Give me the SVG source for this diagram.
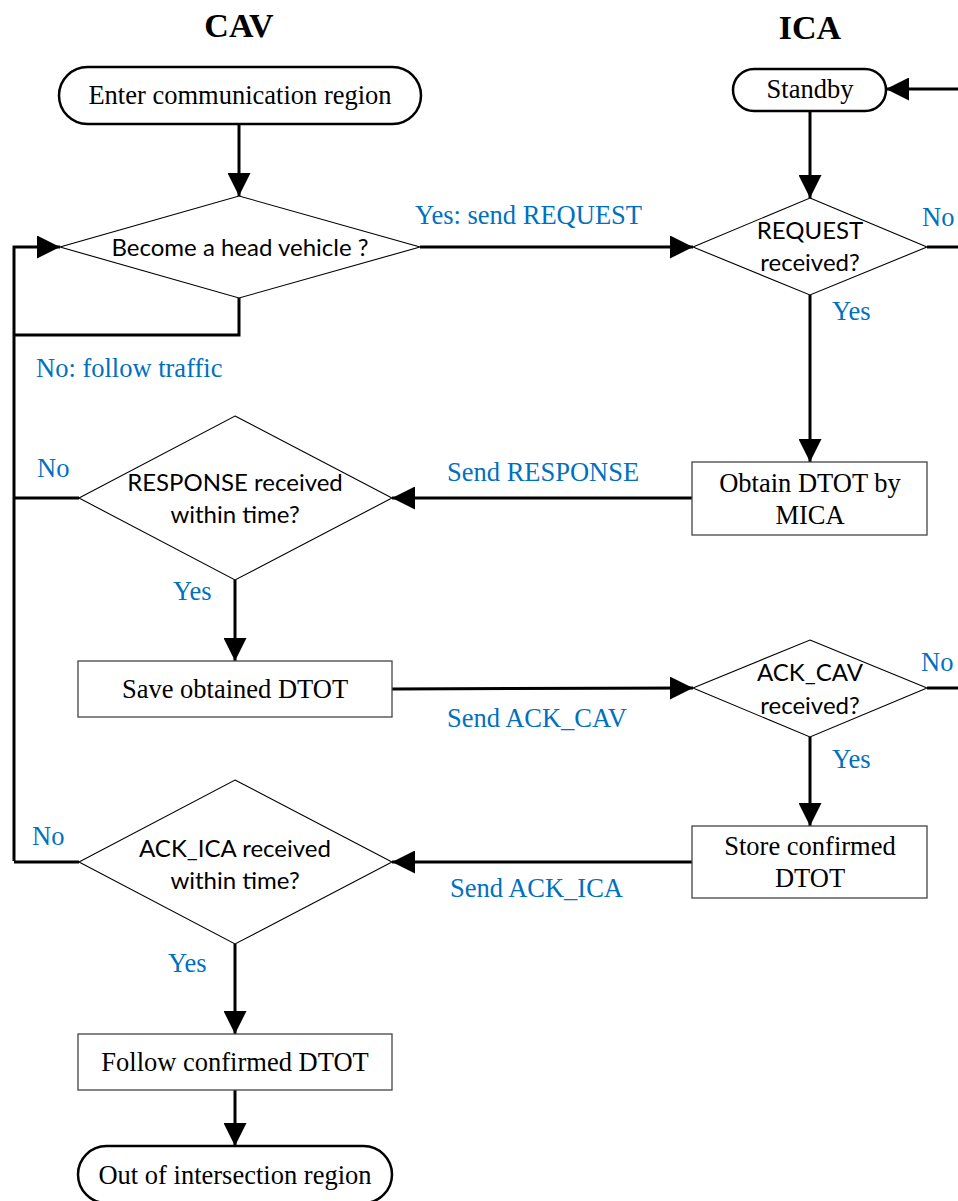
<svg xmlns="http://www.w3.org/2000/svg" width="958" height="1201" viewBox="0 0 958 1201">
  <style>
    .title { font-family: "Liberation Serif", "Times New Roman", serif; font-weight: bold; font-size: 34px; fill: #000; text-anchor: middle; }
    .serif { font-family: "Liberation Serif", "Times New Roman", serif; font-size: 26.5px; fill: #000; text-anchor: middle; }
    .sans { font-family: Lato, "Liberation Sans", sans-serif; font-size: 24px; fill: #000; text-anchor: middle; }
    .lbl { font-family: "Liberation Serif", "Times New Roman", serif; font-size: 26.5px; fill: #0070C0; }
    .term { fill: #fff; stroke: #000; stroke-width: 2.5; }
    .box { fill: #fff; stroke: #444; stroke-width: 1.3; }
    .dec { fill: #fff; stroke: #000; stroke-width: 1.1; }
    .link { fill: none; stroke: #000; stroke-width: 3; }
    .arrow { marker-end: url(#head); }
  </style>
  <defs>
    <marker id="head" viewBox="0 0 23 23" refX="23" refY="11.5" markerWidth="23" markerHeight="23" markerUnits="userSpaceOnUse" orient="auto">
      <path d="M0,0 L23,11.5 L0,23 Z" fill="#000"/>
    </marker>
  </defs>

  <!-- lane titles -->
  <text class="title" x="239" y="37">CAV</text>
  <text class="title" x="810" y="39">ICA</text>

  <!-- connectors -->
  <g id="connectors">
    <line class="link arrow" x1="239" y1="124" x2="239" y2="196"/>
    <polyline class="link" points="239,298 239,335 14,335"/>
    <polyline class="link arrow" points="14,861 14,247 60,247"/>
    <line class="link arrow" x1="420" y1="247" x2="693" y2="247"/>
    <line class="link arrow" x1="958" y1="89" x2="886" y2="89"/>
    <line class="link arrow" x1="810" y1="111" x2="810" y2="198"/>
    <line class="link" x1="927" y1="247" x2="958" y2="247"/>
    <line class="link arrow" x1="810" y1="295" x2="810" y2="462"/>
    <line class="link arrow" x1="692" y1="498" x2="392" y2="498"/>
    <line class="link" x1="79" y1="498" x2="14" y2="498"/>
    <line class="link arrow" x1="235" y1="580" x2="235" y2="661"/>
    <line class="link arrow" x1="392" y1="689" x2="693" y2="688"/>
    <line class="link" x1="927" y1="688" x2="958" y2="688"/>
    <line class="link arrow" x1="810" y1="737" x2="810" y2="826"/>
    <line class="link arrow" x1="692" y1="862" x2="392" y2="862"/>
    <line class="link" x1="79" y1="862" x2="14" y2="862"/>
    <line class="link arrow" x1="235" y1="944" x2="235" y2="1034"/>
    <line class="link arrow" x1="235" y1="1090" x2="235" y2="1146"/>

    <!-- connector labels -->
    <text class="lbl" x="415" y="224">Yes: send REQUEST</text>
    <text class="lbl" x="36" y="377">No: follow traffic</text>
    <text class="lbl" x="922" y="226">No</text>
    <text class="lbl" x="832" y="320">Yes</text>
    <text class="lbl" x="447" y="481">Send RESPONSE</text>
    <text class="lbl" x="37" y="477">No</text>
    <text class="lbl" x="173" y="600">Yes</text>
    <text class="lbl" x="447" y="727">Send ACK_CAV</text>
    <text class="lbl" x="921" y="671">No</text>
    <text class="lbl" x="832" y="768">Yes</text>
    <text class="lbl" x="450" y="897">Send ACK_ICA</text>
    <text class="lbl" x="32" y="845">No</text>
    <text class="lbl" x="168" y="972">Yes</text>
  </g>

  <!-- CAV side -->
  <g id="enter">
    <rect class="term" x="59" y="67" width="362" height="57" rx="28.5"/>
    <text class="serif" x="240" y="104">Enter communication region</text>
  </g>
  <g id="head-vehicle">
    <polygon class="dec" points="239,196 420,247 239,298 60,247"/>
    <text class="sans" x="240" y="256">Become a head vehicle ?</text>
  </g>
  <g id="response-check">
    <polygon class="dec" points="235,416 392,498 235,580 79,498"/>
    <text class="sans" x="235" y="491">RESPONSE received</text>
    <text class="sans" x="235" y="523">within time?</text>
  </g>
  <g id="save-dtot">
    <rect class="box" x="78" y="661" width="314" height="56"/>
    <text class="serif" x="235" y="698">Save obtained DTOT</text>
  </g>
  <g id="ack-ica-check">
    <polygon class="dec" points="235,780 392,862 235,944 79,862"/>
    <text class="sans" x="235" y="857">ACK_ICA received</text>
    <text class="sans" x="235" y="889">within time?</text>
  </g>
  <g id="follow-dtot">
    <rect class="box" x="78" y="1034" width="314" height="56"/>
    <text class="serif" x="235" y="1071">Follow confirmed DTOT</text>
  </g>
  <g id="out-region">
    <rect class="term" x="78" y="1146" width="314" height="57" rx="28.5"/>
    <text class="serif" x="235" y="1184">Out of intersection region</text>
  </g>

  <!-- ICA side -->
  <g id="standby">
    <rect class="term" x="733" y="69" width="153" height="42" rx="21"/>
    <text class="serif" x="810" y="98">Standby</text>
  </g>
  <g id="request-check">
    <polygon class="dec" points="810,198 927,247 810,295 693,247"/>
    <text class="sans" x="810" y="239">REQUEST</text>
    <text class="sans" x="810" y="271">received?</text>
  </g>
  <g id="obtain-dtot">
    <rect class="box" x="692" y="462" width="235" height="73"/>
    <text class="serif" x="810" y="492">Obtain DTOT by</text>
    <text class="serif" x="810" y="524">MICA</text>
  </g>
  <g id="ack-cav-check">
    <polygon class="dec" points="810,640 927,688 810,737 693,688"/>
    <text class="sans" x="810" y="681">ACK_CAV</text>
    <text class="sans" x="810" y="714">received?</text>
  </g>
  <g id="store-dtot">
    <rect class="box" x="692" y="826" width="235" height="72"/>
    <text class="serif" x="810" y="855">Store confirmed</text>
    <text class="serif" x="810" y="887">DTOT</text>
  </g>
</svg>
